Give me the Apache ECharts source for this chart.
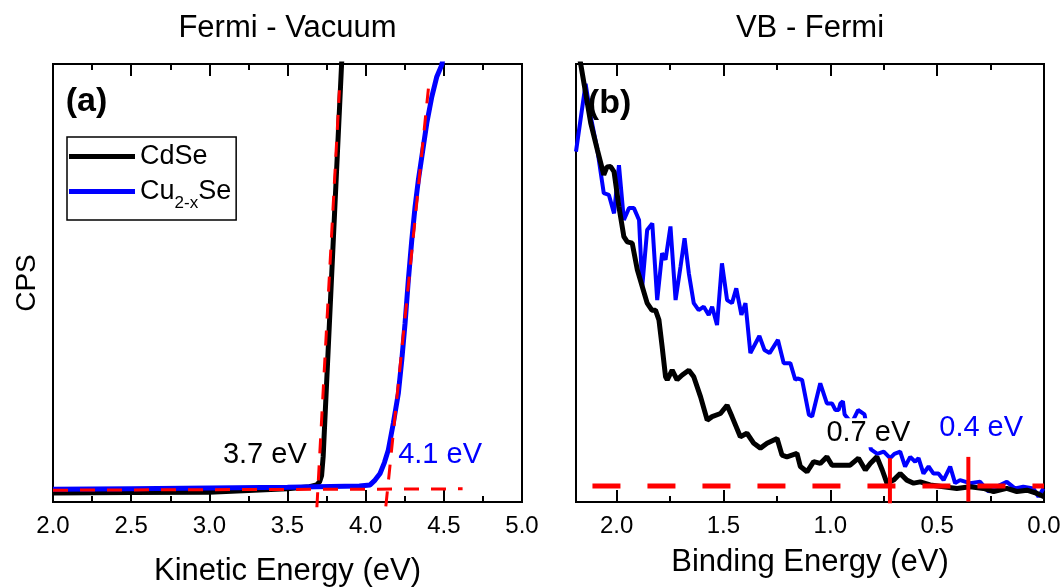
<!DOCTYPE html>
<html>
<head>
<meta charset="utf-8">
<script src="https://cdn.jsdelivr.net/npm/echarts@6/dist/echarts.min.js"></script>
<style>
  html, body { margin: 0; padding: 0; background: #fff; }
  #chart { width: 1064px; height: 587px; }
</style>
</head>
<body>
<div id="chart"></div>
<script>
// ---------- DATA ----------
// Panel (a): Fermi - Vacuum  (x = kinetic energy, eV; y = CPS, arbitrary units)
const cdseKinetic = [[2.0,2.05],[2.5,2.15],[3.0,2.25],[3.5,3.0],[3.64,3.5],[3.686,3.9],[3.705,4.6],[3.718,6],[3.728,10.3],[3.76,34.6],[3.79,57.5],[3.82,80.3],[3.846,100],[3.86,110]];
const cuKinetic = [[2.0,2.9],[2.5,3.05],[3.0,3.2],[3.5,3.35],[3.96,3.65],[4.028,3.9],[4.06,5],[4.092,6.5],[4.12,9],[4.145,11.9],[4.177,18],[4.209,24.8],[4.231,32.4],[4.252,40.8],[4.273,50.7],[4.295,59.8],[4.316,67.4],[4.337,73.5],[4.359,78.8],[4.391,86.5],[4.423,92.5],[4.455,97.1],[4.487,99.8],[4.51,104]];
const fitBaselineA = [[2.0,2.7],[4.62,3.0]];
const fitCdseA = [[3.688,-1.2],[3.832,94]];
const fitCuA = [[4.129,-1],[4.403,95]];
const labelsA = ['3.7 eV', '4.1 eV'];

// Panel (b): VB - Fermi  (x = binding energy, eV; y = CPS)
const cdseBinding = [[2.19,106],[2.168,100],[2.121,86.5],[2.09,80.4],[2.06,74.7],[2.045,76.5],[2.028,76.6],[2.012,75.4],[1.989,67.4],[1.966,60.6],[1.95,59.4],[1.927,59.1],[1.903,53],[1.88,49.2],[1.857,45.4],[1.835,43.8],[1.818,43.8],[1.802,41.6],[1.787,35.5],[1.771,28.6],[1.763,27.9],[1.74,30.1],[1.717,27.9],[1.693,29],[1.662,30.1],[1.639,28.6],[1.607,24],[1.576,18.7],[1.553,19.5],[1.514,20.2],[1.483,22.1],[1.46,19.5],[1.421,14.9],[1.39,15.7],[1.358,13.4],[1.327,12.3],[1.296,13.4],[1.249,14.5],[1.226,10.7],[1.203,10.3],[1.156,11.1],[1.14,8.1],[1.109,6.9],[1.078,9.2],[1.047,8.8],[1.016,10.3],[0.992,8.4],[0.938,8.4],[0.907,8.4],[0.868,10],[0.836,7.3],[0.813,8.8],[0.782,10.3],[0.757,7.3],[0.735,4.3],[0.704,5.0],[0.673,6.5],[0.642,5.0],[0.61,4.3],[0.579,4.6],[0.533,3.9],[0.47,3.5],[0.408,3.1],[0.346,3.5],[0.283,3.1],[0.236,2.4],[0.174,3.1],[0.127,2.4],[0.08,2.7],[0.034,2.0],[0.0,1.2]];
const cuBinding = [[2.19,80],[2.145,95.5],[2.121,88],[2.09,80.4],[2.06,70.5],[2.036,70.1],[2.012,65.9],[1.989,76.9],[1.966,64.4],[1.942,67.1],[1.919,67.1],[1.895,64.4],[1.88,49.2],[1.857,62.1],[1.833,63.6],[1.81,46.1],[1.787,56.8],[1.771,55.3],[1.748,62.9],[1.724,46.1],[1.701,53.7],[1.682,60.2],[1.662,52.2],[1.639,45.4],[1.616,43.8],[1.592,44.6],[1.569,42.7],[1.553,44.6],[1.53,40.4],[1.507,54.5],[1.483,46.1],[1.46,45.4],[1.44,48.8],[1.416,42.7],[1.397,45.4],[1.374,34],[1.332,37.9],[1.308,34.7],[1.284,34],[1.245,37],[1.218,31.7],[1.187,31.7],[1.164,27.9],[1.153,28.2],[1.132,27.9],[1.1,19.9],[1.085,19.5],[1.047,27.1],[1.016,22.5],[0.992,22.5],[0.976,21],[0.961,21],[0.953,22.5],[0.941,23],[0.933,20],[0.9,18],[0.87,21],[0.84,20],[0.81,12],[0.78,11],[0.75,11.5],[0.72,10],[0.70,11],[0.673,11.5],[0.65,8.1],[0.626,10.3],[0.603,9.2],[0.587,10],[0.564,6.5],[0.54,8.1],[0.517,6.5],[0.494,6.5],[0.47,5],[0.439,8.1],[0.416,4.3],[0.393,5],[0.346,4.3],[0.299,4.6],[0.26,2.4],[0.22,3.5],[0.174,4.6],[0.136,3.1],[0.097,3.5],[0.05,3.1],[0.026,1.2],[0.003,3.1]];
const fitBaselineB = [[2.113,3.65],[0.0,3.65]];
const markCdseB = [[0.721,10.0],[0.721,-0.3]];
const markCuB = [[0.354,10.3],[0.354,0.1]];
const labelsB = ['0.7 eV', '0.4 eV'];

const seriesNames = ['CdSe', 'Cu2-xSe'];

// ---------- STYLE ----------
const FONT = 'Liberation Sans, Arial, sans-serif';
const BLUE = '#0000ff', RED = '#ff0000', BLACK = '#000000';

const chart = echarts.init(document.getElementById('chart'), null, { renderer: 'canvas' });

function xAxisSet(grid, min, max, inverse, opts) {
  const base = { gridIndex: grid, type: 'value', min: min, max: max, inverse: inverse,
    axisLine: { show: false }, splitLine: { show: false } };
  const major = (pos, extra) => Object.assign({}, base, {
    position: pos, interval: 0.5,
    axisTick: { show: true, inside: true, length: 12, lineStyle: { color: BLACK, width: 2 } },
    axisLabel: { show: false }
  }, extra || {});
  const minor = (pos) => Object.assign({}, base, {
    position: pos, interval: 0.25,
    axisTick: { show: true, inside: true, length: 6, lineStyle: { color: BLACK, width: 2 } },
    axisLabel: { show: false }
  });
  return [
    major('bottom', {
      axisLabel: { show: true, margin: 12, fontSize: 24, color: BLACK, fontFamily: FONT,
        showMaxLabel: opts.showMax, showMinLabel: true,
        formatter: v => v.toFixed(1) },
      name: opts.name, nameLocation: 'middle', nameGap: opts.nameGap,
      nameTextStyle: { fontSize: 31, color: BLACK, fontFamily: FONT }
    }),
    minor('bottom'),
    major('top', {
      name: opts.title, nameLocation: 'middle', nameGap: 20,
      nameTextStyle: { fontSize: 31, color: BLACK, fontFamily: FONT }
    }),
    minor('top')
  ];
}

const xAxes = [].concat(
  xAxisSet(0, 2, 5, false, { name: 'Kinetic Energy (eV)', nameGap: 54, title: 'Fermi - Vacuum', showMax: true }),
  xAxisSet(1, 0, 2.19, true, { name: 'Binding Energy (eV)', nameGap: 45, title: 'VB - Fermi', showMax: false })
);

function yAxis(grid, name) {
  return { gridIndex: grid, type: 'value', min: 0, max: 100,
    axisLine: { show: false }, axisTick: { show: false }, axisLabel: { show: false }, splitLine: { show: false },
    name: name || '', nameLocation: 'middle', nameGap: 12, nameRotate: 90,
    nameTextStyle: { fontSize: 28, color: BLACK, fontFamily: FONT } };
}

function line(name, data, xi, yi, color, width, extra) {
  return Object.assign({ type: 'line', name: name, data: data, xAxisIndex: xi, yAxisIndex: yi,
    symbol: 'none', showSymbol: false, smooth: false, animation: false, legendIcon: 'rect',
    lineStyle: { color: color, width: width }, itemStyle: { color: color }, z: 3 }, extra || {});
}

function textMark(xi, yi, items) {
  return { type: 'scatter', name: '', xAxisIndex: xi, yAxisIndex: yi, symbolSize: 0, animation: false,
    silent: true, z: 10, clip: false, itemStyle: { opacity: 1 },
    data: items.map(it => ({ name: it.text, value: it.pos,
      label: Object.assign({ show: true, position: 'inside', formatter: '{b}', fontFamily: FONT,
        fontSize: 29, color: it.color, opacity: 1 }, it.style || {}) })) };
}

const gridBase = { show: true, borderColor: BLACK, borderWidth: 2, backgroundColor: 'transparent',
  outerBoundsMode: 'none', containLabel: false };

const option = {
  animation: false,
  backgroundColor: '#ffffff',
  textStyle: { fontFamily: FONT },
  grid: [
    Object.assign({ left: 53, top: 64, width: 469, height: 438 }, gridBase),
    Object.assign({ left: 576, top: 64, width: 468, height: 438 }, gridBase)
  ],
  xAxis: xAxes,
  yAxis: [yAxis(0, 'CPS'), yAxis(1)],
  legend: {
    data: seriesNames, orient: 'vertical', left: 67, top: 137,
    padding: [6, 5, 8, 2], itemGap: 8, itemWidth: 66, itemHeight: 5,
    borderColor: BLACK, borderWidth: 1.5, backgroundColor: '#fff',
    selectedMode: false, icon: 'rect',
    textStyle: { fontFamily: FONT, color: BLACK, fontSize: 27,
      rich: { m: { fontSize: 27, fontFamily: FONT, color: BLACK },
              s: { fontSize: 17, fontFamily: FONT, color: BLACK, padding: [24, 0, 0, 0] } } },
    formatter: n => n === 'Cu2-xSe' ? '{m|Cu}{s|2-x}{m|Se}' : '{m|' + n + '}'
  },
  series: [
    line('', fitBaselineA, 0, 0, RED, 3, { lineStyle: { color: RED, width: 3, type: [15, 12] }, z: 4, clip: false }),
    line(seriesNames[0], cdseKinetic, 0, 0, BLACK, 5),
    line(seriesNames[1], cuKinetic, 0, 0, BLUE, 5),
    line('', fitCdseA, 0, 0, RED, 3, { lineStyle: { color: RED, width: 3, type: [15, 12] }, z: 4, clip: false }),
    line('', fitCuA, 0, 0, RED, 3, { lineStyle: { color: RED, width: 3, type: [15, 12] }, z: 4, clip: false }),
    textMark(0, 0, [
      { text: labelsA[0], pos: [3.355, 10.7], color: BLACK },
      { text: labelsA[1], pos: [4.476, 10.7], color: BLUE },
      { text: '(a)', pos: [2.214, 91.3], color: BLACK, style: { fontSize: 34, fontWeight: 'bold' } }
    ]),

    line(seriesNames[1], cuBinding, 4, 1, BLUE, 4),
    line(seriesNames[0], cdseBinding, 4, 1, BLACK, 5),
    line('', fitBaselineB, 4, 1, RED, 5, { lineStyle: { color: RED, width: 5, type: [28, 27] }, z: 4, clip: false }),
    line('', markCdseB, 4, 1, RED, 4, { z: 4, clip: false }),
    line('', markCuB, 4, 1, RED, 4, { z: 4, clip: false }),
    textMark(4, 1, [
      { text: labelsB[0], pos: [0.822, 15.8], color: BLACK, style: { backgroundColor: '#ffffff' } },
      { text: labelsB[1], pos: [0.294, 16.9], color: BLUE },
      { text: '(b)', pos: [2.033, 91], color: BLACK, style: { fontSize: 34, fontWeight: 'bold' } }
    ])
  ]
};
chart.setOption(option);
</script>
</body>
</html>
